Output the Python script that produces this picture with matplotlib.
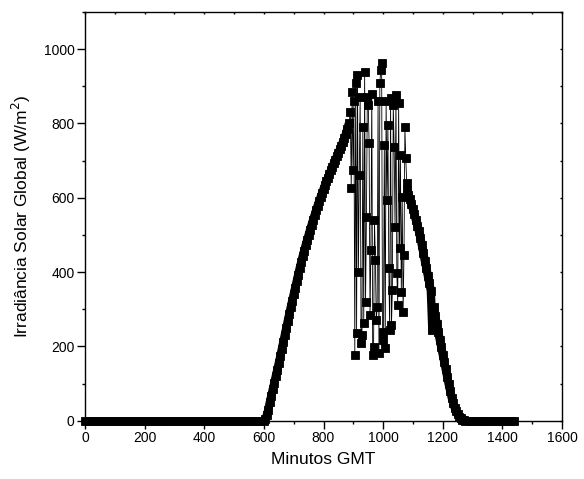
# Irradiancia solar global ao longo de um dia (minuto a minuto, GMT)

import numpy as np
import matplotlib
matplotlib.use("Agg")
import matplotlib.pyplot as plt
import matplotlib.lines as mlines
from matplotlib.ticker import MultipleLocator

##############################################################################
# dados

# madrugada / manha sem sol (passo de 15 min)
noite_manha_min = np.arange(0, 600, 15)
noite_manha_irr = [0, 0, 0, 0, 0, 0, 0, 0, 0, 0,
                   0, 0, 0, 0, 0, 0, 0, 0, 0, 0,
                   0, 0, 0, 0, 0, 0, 0, 0, 0, 0,
                   0, 0, 0, 0, 0, 0, 0, 0, 0, 0]

# subida da manha, ceu limpo (passo de 5 min)
manha_min = np.arange(600, 890, 5)
manha_irr = [0, 5, 15, 30, 50, 67, 85, 102, 120, 137,
             155, 173, 192, 211, 230, 249, 268, 287, 305, 323,
             340, 358, 375, 393, 410, 426, 442, 457, 472, 486,
             500, 514, 527, 540, 553, 566, 578, 590, 601, 612,
             623, 634, 644, 654, 664, 674, 683, 693, 702, 712,
             721, 730, 740, 750, 760, 772, 785, 800]

# meio-dia com nuvens (passo de 3 min)
nuvens_min = np.arange(890, 1080, 3)
nuvens_irr = [830, 626, 885, 675, 860, 177, 909, 235, 930, 400,
              661, 870, 208, 230, 790, 262, 939, 319, 548, 870,
              850, 747, 284, 459, 880, 177, 198, 540, 432, 270,
              306, 860, 182, 909, 944, 963, 238, 216, 742, 195,
              860, 594, 797, 410, 243, 868, 257, 351, 850, 737,
              521, 877, 397, 311, 855, 465, 715, 346, 602, 292,
              446, 790, 707, 640]

# descida da tarde (passo de 5 min)
tarde_min = np.arange(1080, 1275, 5)
tarde_irr = [622, 608, 596, 583, 570, 555, 540, 525, 510, 492,
             472, 451, 430, 410, 390, 370, 350, 244, 305, 282,
             260, 239, 218, 198, 178, 158, 138, 118, 98, 80,
             62, 48, 35, 25, 17, 11, 6, 3, 1]

# noite (passo de 15 min)
noite_tarde_min = np.arange(1275, 1441, 15)
noite_tarde_irr = [0, 0, 0, 0, 0, 0, 0, 0, 0, 0, 0, 0]

##############################################################################

minutos = np.concatenate([noite_manha_min, manha_min, nuvens_min,
                          tarde_min, noite_tarde_min])
irradiancia = np.concatenate([noite_manha_irr, manha_irr, nuvens_irr,
                              tarde_irr, noite_tarde_irr])

plt.rcParams["font.family"] = ["Liberation Sans", "DejaVu Sans"]

fig = plt.figure(figsize=(5.84, 4.79), dpi=100)
ax = fig.add_axes([85 / 584, 1 - 420.7 / 479, 477 / 584, 408.7 / 479])

# os trechos de ceu limpo sao tao densos que viram uma faixa continua
for xs, ys in [(manha_min, manha_irr), (tarde_min, tarde_irr)]:
    ax.plot(xs, ys, "-", color="black", lw=6.0, solid_capstyle="butt",
            solid_joinstyle="round", clip_on=False)

ax.plot(minutos, irradiancia, "-s", color="black", lw=0.6,
        markersize=5.8, markeredgewidth=0.6, markerfacecolor="black",
        clip_on=False)

ax.set_xlim(0, 1600)
ax.set_ylim(0, 1100)
ax.xaxis.set_major_locator(MultipleLocator(200))
ax.xaxis.set_minor_locator(MultipleLocator(100))
ax.yaxis.set_major_locator(MultipleLocator(200))
ax.yaxis.set_minor_locator(MultipleLocator(100))

ax.tick_params(which="major", direction="out", length=5.5, width=1.0,
               labelsize=10, pad=2)
ax.tick_params(which="minor", direction="out", length=2.5, width=1.0)
# marcas pequenas no topo e na direita (sem rotulos)
ax.tick_params(which="both", top=True, right=True)
for s in ax.spines.values():
    s.set_linewidth(1.0)

ax.set_xlabel("Minutos GMT", fontsize=12.5, labelpad=5)
ax.set_ylabel("Irradiância Solar Global (W/m$^2$)", fontsize=12.5, labelpad=8)

# as marcas do topo/direita apontam para dentro e sao curtas
for t in ax.xaxis.get_major_ticks() + ax.xaxis.get_minor_ticks():
    t.tick2line.set_marker(mlines.TICKDOWN)
    t.tick2line.set_markersize(1.5)
for t in ax.yaxis.get_major_ticks() + ax.yaxis.get_minor_ticks():
    t.tick2line.set_marker(mlines.TICKLEFT)
    t.tick2line.set_markersize(1.5)

fig.savefig("out.png", dpi=100)
